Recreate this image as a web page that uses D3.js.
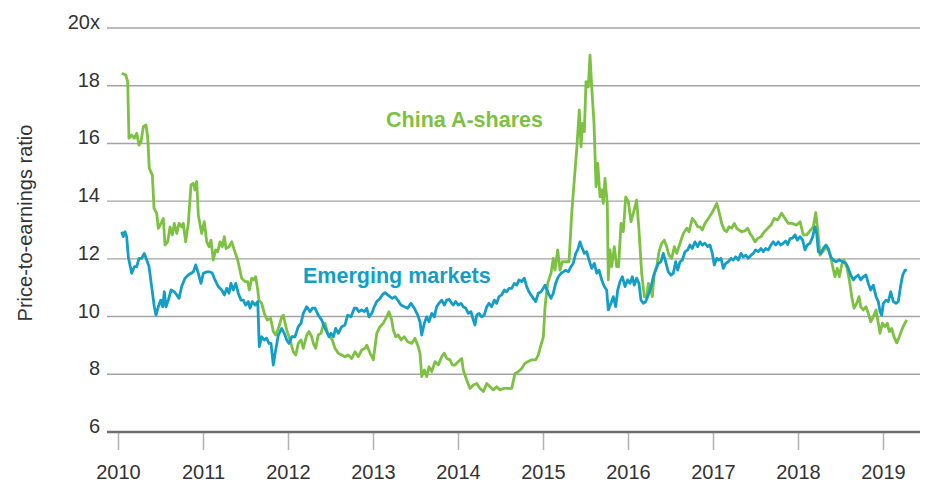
<!DOCTYPE html>
<html>
<head>
<meta charset="utf-8">
<script src="https://cdn.jsdelivr.net/npm/d3@7"></script>
<style>
  body { margin: 0; background: #fff; }
  svg { display: block; font-family: "Liberation Sans", Arial, sans-serif; }
</style>
</head>
<body>
<div id="chart"></div>
<script>
// tick values
const yTicks = [6, 8, 10, 12, 14, 16, 18, 20];
const xTicks = [2010, 2011, 2012, 2013, 2014, 2015, 2016, 2017, 2018, 2019];

// [decimal year, P/E]
const chinaA = [
  [2010.044, 18.43], [2010.091, 18.37], [2010.114, 18.14], [2010.129, 16.18], [2010.161, 16.29],
  [2010.192, 16.18], [2010.220, 16.35], [2010.247, 15.94], [2010.271, 16.06], [2010.298, 16.58],
  [2010.329, 16.64], [2010.349, 16.23], [2010.368, 15.14], [2010.404, 14.90], [2010.424, 13.75],
  [2010.455, 13.58], [2010.474, 13.06], [2010.506, 13.23], [2010.533, 13.40], [2010.553, 12.48],
  [2010.585, 12.59], [2010.612, 13.11], [2010.639, 12.83], [2010.662, 13.23], [2010.691, 12.88],
  [2010.718, 13.23], [2010.749, 13.11], [2010.768, 13.23], [2010.796, 12.59], [2010.827, 13.23],
  [2010.859, 14.56], [2010.886, 14.62], [2010.906, 14.39], [2010.926, 14.68], [2010.945, 13.52],
  [2010.985, 12.88], [2011.015, 13.29], [2011.044, 12.59], [2011.071, 12.42], [2011.094, 12.65],
  [2011.121, 11.96], [2011.149, 12.31], [2011.173, 12.25], [2011.200, 12.59], [2011.227, 12.42],
  [2011.251, 12.77], [2011.271, 12.36], [2011.306, 12.42], [2011.338, 12.59], [2011.368, 12.31],
  [2011.408, 11.96], [2011.455, 11.33], [2011.494, 11.21], [2011.526, 11.21], [2011.545, 10.92],
  [2011.573, 11.33], [2011.600, 11.27], [2011.620, 11.38], [2011.644, 10.92], [2011.659, 10.57],
  [2011.691, 10.46], [2011.721, 10.11], [2011.756, 9.88], [2011.796, 9.94], [2011.827, 9.48],
  [2011.855, 9.36], [2011.894, 9.65], [2011.926, 9.99], [2011.945, 10.05], [2011.985, 9.53],
  [2012.024, 9.19], [2012.062, 8.78], [2012.091, 8.67], [2012.121, 9.07], [2012.153, 9.19],
  [2012.180, 8.90], [2012.220, 9.36], [2012.247, 9.48], [2012.279, 9.30], [2012.298, 9.07],
  [2012.326, 8.90], [2012.356, 9.36], [2012.388, 9.42], [2012.415, 9.71], [2012.435, 9.77],
  [2012.467, 9.42], [2012.494, 9.30], [2012.521, 9.19], [2012.553, 8.90], [2012.592, 8.73],
  [2012.632, 8.67], [2012.671, 8.61], [2012.709, 8.67], [2012.749, 8.55], [2012.788, 8.78],
  [2012.827, 8.61], [2012.867, 8.84], [2012.906, 8.90], [2012.926, 9.01], [2012.965, 8.73],
  [2013.004, 8.50], [2013.044, 9.42], [2013.082, 9.65], [2013.121, 9.77], [2013.161, 9.99],
  [2013.188, 10.17], [2013.220, 9.88], [2013.239, 9.53], [2013.267, 9.30], [2013.298, 9.36],
  [2013.329, 9.19], [2013.368, 9.30], [2013.408, 9.13], [2013.455, 9.07], [2013.494, 9.25],
  [2013.526, 9.01], [2013.553, 8.73], [2013.573, 7.92], [2013.604, 8.15], [2013.632, 7.92],
  [2013.659, 8.26], [2013.691, 8.09], [2013.729, 8.44], [2013.768, 8.32], [2013.808, 8.61],
  [2013.839, 8.73], [2013.867, 8.55], [2013.906, 8.50], [2013.933, 8.32], [2013.965, 8.32],
  [2014.004, 8.44], [2014.044, 8.55], [2014.062, 8.15], [2014.102, 7.80], [2014.141, 7.51],
  [2014.180, 7.63], [2014.220, 7.68], [2014.259, 7.51], [2014.298, 7.40], [2014.338, 7.68],
  [2014.376, 7.57], [2014.415, 7.46], [2014.455, 7.57], [2014.494, 7.46], [2014.533, 7.51],
  [2014.573, 7.51], [2014.632, 7.51], [2014.671, 8.03], [2014.709, 8.09], [2014.749, 8.20],
  [2014.788, 8.38], [2014.827, 8.44], [2014.867, 8.50], [2014.914, 8.50], [2014.945, 8.67],
  [2014.976, 9.01], [2015.004, 9.30], [2015.024, 10.34], [2015.055, 11.15], [2015.094, 11.50],
  [2015.121, 12.02], [2015.141, 11.61], [2015.173, 12.31], [2015.200, 11.61], [2015.227, 11.90],
  [2015.259, 11.90], [2015.306, 11.90], [2015.338, 13.58], [2015.368, 14.73], [2015.396, 15.77],
  [2015.427, 17.16], [2015.447, 15.89], [2015.467, 16.70], [2015.486, 16.41], [2015.506, 18.14],
  [2015.533, 17.96], [2015.553, 19.06], [2015.573, 17.96], [2015.600, 16.70], [2015.624, 14.50],
  [2015.644, 15.31], [2015.671, 14.15], [2015.691, 14.39], [2015.709, 13.92], [2015.729, 14.79],
  [2015.756, 13.92], [2015.768, 11.27], [2015.788, 12.31], [2015.808, 11.73], [2015.839, 12.42],
  [2015.867, 11.73], [2015.889, 11.73], [2015.918, 13.23], [2015.945, 12.94], [2015.973, 14.15],
  [2016.004, 13.98], [2016.035, 13.29], [2016.062, 13.58], [2016.102, 14.04], [2016.129, 13.00],
  [2016.161, 11.50], [2016.192, 10.69], [2016.220, 10.69], [2016.239, 11.15], [2016.271, 10.92],
  [2016.286, 10.69], [2016.309, 11.50], [2016.338, 11.73], [2016.365, 12.25], [2016.396, 12.54],
  [2016.427, 12.65], [2016.455, 12.42], [2016.482, 12.13], [2016.514, 12.02], [2016.545, 12.42],
  [2016.573, 12.19], [2016.612, 12.54], [2016.651, 12.88], [2016.691, 13.06], [2016.718, 12.94],
  [2016.756, 13.40], [2016.788, 13.29], [2016.820, 13.11], [2016.847, 13.11], [2016.874, 13.00],
  [2016.906, 13.23], [2016.945, 13.40], [2016.985, 13.58], [2017.015, 13.75], [2017.044, 13.92],
  [2017.071, 13.63], [2017.102, 13.23], [2017.133, 13.00], [2017.161, 12.94], [2017.188, 13.11],
  [2017.220, 13.06], [2017.251, 13.23], [2017.279, 13.06], [2017.306, 13.00], [2017.338, 12.94],
  [2017.376, 12.97], [2017.408, 13.06], [2017.435, 12.88], [2017.462, 12.77], [2017.494, 12.59],
  [2017.526, 12.71], [2017.565, 12.77], [2017.604, 12.94], [2017.644, 13.06], [2017.682, 13.17],
  [2017.721, 13.40], [2017.761, 13.35], [2017.808, 13.58], [2017.847, 13.40], [2017.886, 13.23],
  [2017.926, 13.23], [2017.985, 13.17], [2018.024, 13.29], [2018.062, 12.83], [2018.102, 12.83],
  [2018.149, 13.00], [2018.180, 13.11], [2018.208, 13.60], [2018.232, 13.00], [2018.259, 12.13],
  [2018.291, 12.25], [2018.318, 12.36], [2018.356, 12.33], [2018.385, 12.07], [2018.408, 11.73],
  [2018.435, 11.38], [2018.462, 11.67], [2018.486, 11.38], [2018.514, 11.79], [2018.541, 11.96],
  [2018.573, 11.73], [2018.604, 11.27], [2018.632, 10.69], [2018.659, 10.29], [2018.691, 10.46],
  [2018.718, 10.69], [2018.738, 10.34], [2018.768, 10.23], [2018.800, 10.34], [2018.827, 10.11],
  [2018.855, 9.82], [2018.886, 9.99], [2018.918, 10.23], [2018.945, 9.77], [2018.965, 9.42],
  [2018.992, 9.77], [2019.024, 9.65], [2019.051, 9.77], [2019.074, 9.48], [2019.102, 9.59],
  [2019.129, 9.30], [2019.161, 9.09], [2019.192, 9.30], [2019.220, 9.53], [2019.247, 9.71],
  [2019.279, 9.88]
];

const emerging = [
  [2010.044, 12.94], [2010.062, 12.77], [2010.082, 12.94], [2010.102, 12.77], [2010.121, 12.07],
  [2010.161, 11.50], [2010.192, 11.73], [2010.220, 11.73], [2010.247, 12.02], [2010.279, 12.02],
  [2010.309, 12.19], [2010.338, 11.96], [2010.365, 11.73], [2010.396, 11.04], [2010.427, 10.34],
  [2010.447, 10.05], [2010.474, 10.34], [2010.502, 10.57], [2010.526, 10.34], [2010.545, 10.86],
  [2010.565, 10.34], [2010.592, 10.57], [2010.624, 10.92], [2010.662, 10.86], [2010.691, 10.75],
  [2010.718, 10.63], [2010.749, 11.04], [2010.788, 11.33], [2010.827, 11.44], [2010.859, 11.50],
  [2010.886, 11.55], [2010.914, 11.79], [2010.945, 11.50], [2010.976, 11.15], [2011.004, 11.50],
  [2011.044, 11.55], [2011.082, 11.55], [2011.109, 11.50], [2011.141, 11.27], [2011.180, 11.04],
  [2011.220, 10.92], [2011.251, 10.75], [2011.279, 10.98], [2011.306, 10.81], [2011.329, 11.15],
  [2011.356, 10.92], [2011.385, 11.15], [2011.415, 10.81], [2011.447, 10.57], [2011.474, 10.57],
  [2011.502, 10.40], [2011.533, 10.52], [2011.553, 10.29], [2011.580, 10.52], [2011.612, 10.40],
  [2011.644, 10.52], [2011.662, 8.96], [2011.691, 9.30], [2011.721, 9.19], [2011.749, 9.25],
  [2011.776, 9.07], [2011.800, 9.07], [2011.827, 8.32], [2011.855, 8.84], [2011.886, 9.35],
  [2011.926, 9.59], [2011.956, 9.42], [2011.985, 9.19], [2012.012, 9.07], [2012.044, 9.30],
  [2012.082, 9.30], [2012.121, 9.65], [2012.153, 9.77], [2012.180, 10.11], [2012.220, 10.34],
  [2012.259, 10.17], [2012.286, 10.29], [2012.318, 10.29], [2012.356, 10.05], [2012.396, 9.88],
  [2012.427, 9.65], [2012.455, 9.48], [2012.482, 9.30], [2012.506, 9.42], [2012.533, 9.30],
  [2012.561, 9.59], [2012.592, 9.42], [2012.632, 9.65], [2012.671, 9.71], [2012.702, 10.05],
  [2012.741, 9.99], [2012.780, 10.29], [2012.808, 10.29], [2012.835, 10.17], [2012.867, 10.23],
  [2012.898, 10.17], [2012.926, 10.29], [2012.953, 9.99], [2012.985, 10.11], [2013.015, 10.34],
  [2013.044, 10.52], [2013.082, 10.63], [2013.109, 10.75], [2013.141, 10.83], [2013.173, 10.75],
  [2013.200, 10.69], [2013.227, 10.63], [2013.259, 10.69], [2013.291, 10.57], [2013.329, 10.40],
  [2013.368, 10.34], [2013.408, 10.29], [2013.447, 10.46], [2013.486, 10.29], [2013.526, 10.05],
  [2013.553, 9.82], [2013.573, 9.36], [2013.604, 9.77], [2013.632, 9.99], [2013.659, 9.82],
  [2013.691, 10.11], [2013.721, 9.99], [2013.749, 10.34], [2013.776, 10.46], [2013.808, 10.57],
  [2013.839, 10.40], [2013.867, 10.57], [2013.894, 10.60], [2013.926, 10.46], [2013.945, 10.40],
  [2013.973, 10.52], [2014.004, 10.40], [2014.035, 10.46], [2014.062, 10.34], [2014.091, 10.29],
  [2014.121, 10.11], [2014.153, 10.17], [2014.180, 9.88], [2014.200, 9.71], [2014.220, 10.05],
  [2014.247, 10.11], [2014.279, 9.99], [2014.309, 10.05], [2014.338, 10.34], [2014.365, 10.46],
  [2014.396, 10.34], [2014.427, 10.57], [2014.455, 10.46], [2014.482, 10.69], [2014.514, 10.75],
  [2014.545, 10.92], [2014.573, 10.86], [2014.600, 10.98], [2014.632, 10.98], [2014.662, 11.15],
  [2014.691, 11.09], [2014.718, 11.27], [2014.749, 11.21], [2014.780, 11.33], [2014.808, 11.04],
  [2014.835, 10.86], [2014.859, 10.75], [2014.886, 10.63], [2014.914, 10.52], [2014.945, 10.81],
  [2014.976, 10.86], [2015.004, 10.98], [2015.024, 11.09], [2015.062, 10.81], [2015.094, 10.63],
  [2015.121, 10.81], [2015.149, 11.15], [2015.180, 11.38], [2015.212, 11.50], [2015.239, 11.55],
  [2015.267, 11.61], [2015.298, 11.55], [2015.329, 11.73], [2015.356, 11.84], [2015.385, 12.19],
  [2015.408, 12.31], [2015.435, 12.59], [2015.455, 12.42], [2015.486, 12.19], [2015.514, 12.25],
  [2015.541, 11.96], [2015.573, 11.67], [2015.604, 11.84], [2015.632, 11.50], [2015.659, 11.61],
  [2015.691, 11.27], [2015.721, 11.04], [2015.749, 10.92], [2015.768, 10.23], [2015.800, 10.46],
  [2015.827, 10.69], [2015.855, 10.34], [2015.879, 10.92], [2015.906, 11.21], [2015.933, 11.38],
  [2015.965, 11.04], [2015.996, 11.27], [2016.024, 11.15], [2016.051, 11.38], [2016.074, 11.09],
  [2016.102, 11.33], [2016.129, 11.15], [2016.153, 10.57], [2016.180, 10.46], [2016.208, 10.52],
  [2016.239, 10.75], [2016.271, 11.04], [2016.298, 11.38], [2016.326, 11.61], [2016.356, 11.84],
  [2016.388, 11.90], [2016.415, 12.19], [2016.443, 11.90], [2016.474, 11.55], [2016.506, 11.44],
  [2016.533, 11.50], [2016.561, 11.90], [2016.585, 11.61], [2016.612, 11.90], [2016.639, 11.96],
  [2016.671, 12.25], [2016.702, 12.31], [2016.729, 12.48], [2016.756, 12.36], [2016.788, 12.59],
  [2016.820, 12.42], [2016.847, 12.59], [2016.874, 12.48], [2016.906, 12.54], [2016.937, 12.42],
  [2016.965, 12.48], [2016.992, 12.19], [2017.015, 11.79], [2017.044, 12.02], [2017.071, 11.96],
  [2017.094, 12.02], [2017.121, 11.67], [2017.149, 11.84], [2017.180, 11.90], [2017.212, 12.02],
  [2017.239, 11.96], [2017.267, 12.07], [2017.298, 11.96], [2017.329, 12.19], [2017.356, 12.07],
  [2017.385, 12.13], [2017.415, 12.02], [2017.447, 12.13], [2017.474, 12.19], [2017.502, 12.31],
  [2017.533, 12.25], [2017.565, 12.36], [2017.592, 12.25], [2017.620, 12.36], [2017.651, 12.31],
  [2017.682, 12.48], [2017.709, 12.59], [2017.738, 12.48], [2017.768, 12.59], [2017.796, 12.48],
  [2017.827, 12.54], [2017.855, 12.62], [2017.879, 12.50], [2017.906, 12.70], [2017.935, 12.72],
  [2017.965, 12.83], [2017.992, 12.65], [2018.024, 12.77], [2018.055, 12.65], [2018.082, 12.31],
  [2018.109, 12.48], [2018.141, 12.54], [2018.173, 12.77], [2018.200, 13.11], [2018.220, 12.88],
  [2018.239, 12.25], [2018.267, 12.19], [2018.298, 12.36], [2018.329, 12.48], [2018.356, 12.36],
  [2018.385, 12.07], [2018.415, 11.96], [2018.447, 11.90], [2018.486, 11.96], [2018.526, 11.90],
  [2018.565, 11.84], [2018.592, 11.67], [2018.620, 11.44], [2018.651, 11.27], [2018.682, 11.38],
  [2018.709, 11.44], [2018.738, 11.27], [2018.768, 11.38], [2018.800, 11.44], [2018.827, 11.15],
  [2018.855, 10.92], [2018.886, 11.09], [2018.918, 10.69], [2018.945, 10.52], [2018.965, 10.17],
  [2018.985, 10.05], [2019.004, 10.46], [2019.035, 10.57], [2019.062, 10.52], [2019.091, 10.86],
  [2019.121, 10.52], [2019.153, 10.46], [2019.180, 10.52], [2019.209, 11.09], [2019.232, 11.44],
  [2019.259, 11.61], [2019.279, 11.59]
];

const green = '#7dc142';
const blue = '#139ec6';
const textColor = '#333333';

const width = 925, height = 483;

const svg = d3.select('#chart')
    .append('svg')
    .attr('width', width)
    .attr('height', height);

const x = d3.scaleLinear()
    .domain([2010, 2019])
    .range([118, 883]);

const y = d3.scaleLinear()
    .domain([6, 20])
    .range([432, 28]);

const gridLeft = 107, gridRight = 920;

// horizontal gridlines
svg.append('g')
    .selectAll('line')
    .data(yTicks.filter(d => d !== 6))
    .join('line')
    .attr('x1', gridLeft)
    .attr('x2', gridRight)
    .attr('y1', d => y(d))
    .attr('y2', d => y(d))
    .attr('stroke', '#a3a3a3')
    .attr('stroke-width', 1.4);

// y labels
svg.append('g')
    .selectAll('text')
    .data(yTicks)
    .join('text')
    .attr('x', 100)
    .attr('y', d => y(d) + 1)
    .attr('text-anchor', 'end')
    .attr('font-size', 20)
    .attr('fill', textColor)
    .text(d => d === 20 ? '20x' : d);

// x axis
const xAxis = svg.append('g')
    .attr('transform', `translate(0,${y(6)})`)
    .call(d3.axisBottom(x)
        .tickValues(xTicks)
        .tickFormat(d3.format('d'))
        .tickSize(18)
        .tickPadding(15)
        .tickSizeOuter(0));
xAxis.select('.domain').remove();
xAxis.selectAll('.tick line')
    .attr('stroke', '#b3b3b3')
    .attr('stroke-width', 1.5);
xAxis.selectAll('.tick text')
    .attr('font-size', 20)
    .attr('font-family', '"Liberation Sans", Arial, sans-serif')
    .attr('fill', textColor);

svg.append('line')
    .attr('x1', gridLeft)
    .attr('x2', gridRight)
    .attr('y1', y(6))
    .attr('y2', y(6))
    .attr('stroke', '#6e6e6e')
    .attr('stroke-width', 2.5);

// y title
svg.append('text')
    .attr('transform', 'translate(32,223) rotate(-90)')
    .attr('text-anchor', 'middle')
    .attr('font-size', 20)
    .attr('fill', textColor)
    .text('Price-to-earnings ratio');

const line = d3.line()
    .x(d => x(d[0]))
    .y(d => y(d[1]));

svg.append('path')
    .datum(chinaA)
    .attr('d', line)
    .attr('fill', 'none')
    .attr('stroke', green)
    .attr('stroke-width', 2.8)
    .attr('stroke-linejoin', 'round');

svg.append('path')
    .datum(emerging)
    .attr('d', line)
    .attr('fill', 'none')
    .attr('stroke', blue)
    .attr('stroke-width', 2.8)
    .attr('stroke-linejoin', 'round');

// series labels
svg.append('text')
    .attr('x', 386)
    .attr('y', 127)
    .attr('font-size', 21.5)
    .attr('font-weight', 'bold')
    .attr('fill', green)
    .text('China A-shares');

svg.append('text')
    .attr('x', 303)
    .attr('y', 283)
    .attr('font-size', 21.5)
    .attr('font-weight', 'bold')
    .attr('fill', blue)
    .text('Emerging markets');
</script>
</body>
</html>
